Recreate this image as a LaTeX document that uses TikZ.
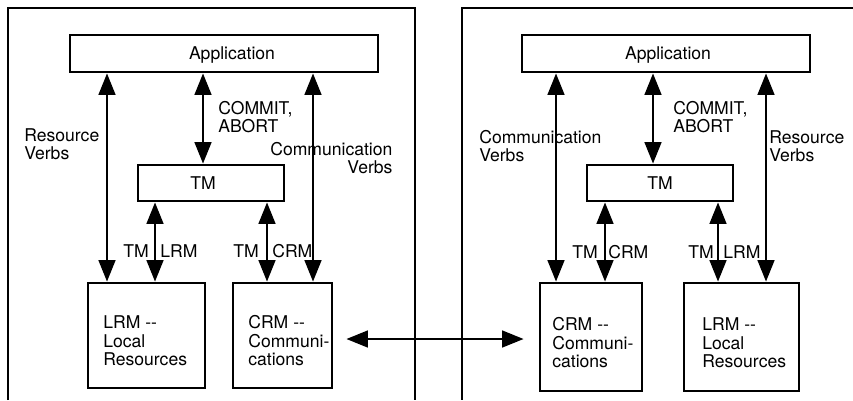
\documentclass[tikz,border=0pt]{standalone}
\usepackage{fontspec}
\setmainfont{TeX Gyre Heros}
\usetikzlibrary{arrows.meta}

\begin{document}
\begin{tikzpicture}[x=0.2mm, y=-0.2mm]
            \tikzstyle{site} = [line width=1.3pt]
            \tikzstyle{box} = [draw, line width=1.5pt, inner sep=0pt]
            \tikzstyle{lbl} = [inner sep=0pt, align=left, font=\fontsize{10}{10.5}\selectfont]
            \tikzstyle{flow} = [line width=1.6pt, {Triangle[length=4.3mm, width=3.3mm]}-{Triangle[length=4.3mm, width=3.3mm]}]
            \useasboundingbox (0,0) rectangle (853,400);
            % the two sites
            \draw[site] (8,400) |- (415,8) -- (415,400);
            \draw[site] (853,8) -| (462,400);
            % left site
            \node[box, minimum width=61.6mm, minimum height=7.4mm] (appL) at (224,53.5) {};
            \node[box, minimum width=29.2mm, minimum height=7.2mm] (tmL) at (211,183) {};
            \node[box, minimum width=23.4mm, minimum height=21mm] (lrmL) at (146.5,335.5) {};
            \node[box, minimum width=19.8mm, minimum height=21mm] (crmL) at (282.5,335.5) {};
            \node[lbl] (appLt) at (232,55) {Application};
            \node[lbl] (tmLt) at (203,183) {TM};
            \node[lbl, anchor=west] (lrmLt) at (103,341) {LRM -{}-\\Local\\Resources};
            \node[lbl, anchor=west] (crmLt) at (248,341) {CRM -{}-\\Communi-\\cations};
            % right site
            \node[box, minimum width=57.6mm, minimum height=7.4mm] (appR) at (666,53.5) {};
            \node[box, minimum width=29.2mm, minimum height=7.2mm] (tmR) at (660,183) {};
            \node[box, minimum width=20.4mm, minimum height=21.6mm] (crmR) at (591,337) {};
            \node[box, minimum width=23mm, minimum height=21.6mm] (lrmR) at (741.5,337) {};
            \node[lbl] (appRt) at (668,55) {Application};
            \node[lbl] (tmRt) at (660,183) {TM};
            \node[lbl, anchor=west] (crmRt) at (552,343) {CRM -{}-\\Communi-\\cations};
            \node[lbl, anchor=west] (lrmRt) at (702,343) {LRM -{}-\\Local\\Resources};
            % x positions of the vertical flows
            \coordinate (rvL) at (107,0);
            \coordinate (caL) at (203,0);
            \coordinate (cvL) at (313,0);
            \coordinate (tlL) at (155,0);
            \coordinate (tcL) at (267,0);
            \coordinate (cvR) at (556,0);
            \coordinate (caR) at (653,0);
            \coordinate (rvR) at (766,0);
            \coordinate (tcR) at (605,0);
            \coordinate (tlR) at (718,0);
            \coordinate (link) at (0,339);
            \draw[flow] (appL.south -| rvL) -- (lrmL.north -| rvL);
            \draw[flow] (appL.south -| caL) -- (tmL.north -| caL);
            \draw[flow] (appL.south -| cvL) -- (crmL.north -| cvL);
            \draw[flow] (tmL.south -| tlL) -- (lrmL.north -| tlL);
            \draw[flow] (tmL.south -| tcL) -- (crmL.north -| tcL);
            \draw[flow] (appR.south -| cvR) -- (crmR.north -| cvR);
            \draw[flow] (appR.south -| caR) -- (tmR.north -| caR);
            \draw[flow] (appR.south -| rvR) -- (lrmR.north -| rvR);
            \draw[flow] (tmR.south -| tcR) -- (crmR.north -| tcR);
            \draw[flow] (tmR.south -| tlR) -- (lrmR.north -| tlR);
            \draw[flow, shorten <=2.6mm, shorten >=3mm] (crmL.east |- link) -- (crmR.west |- link);
            % labels on the flows
            \node[lbl, anchor=west] (rvtL) at (24,144) {Resource\\Verbs};
            \node[lbl, anchor=west] (catL) at (218,117) {COMMIT,\\ABORT};
            \node[lbl, anchor=west, align=right] (cvtL) at (270,158) {Communication\\Verbs};
            \node[lbl, anchor=east] (tltL) at (149,251) {TM};
            \node[lbl, anchor=west] (ltL) at (160,251) {LRM};
            \node[lbl, anchor=east] (tctL) at (259,251) {TM};
            \node[lbl, anchor=west] (ctL) at (272,251) {CRM};
            \node[lbl, anchor=west] (cvtR) at (479,146) {Communication\\Verbs};
            \node[lbl, anchor=west] (catR) at (673,117) {COMMIT,\\ABORT};
            \node[lbl, anchor=west] (rvtR) at (769,146) {Resource\\Verbs};
            \node[lbl, anchor=east] (tctR) at (598,252) {TM};
            \node[lbl, anchor=west] (ctR) at (608,252) {CRM};
            \node[lbl, anchor=east] (tltR) at (714,252) {TM};
            \node[lbl, anchor=west] (ltR) at (723,252) {LRM};
        \end{tikzpicture}
\end{document}
